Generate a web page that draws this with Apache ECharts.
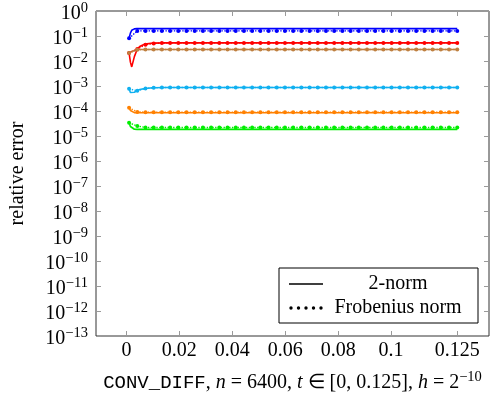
<!DOCTYPE html>
<html>
<head>
<meta charset="utf-8">
<script src="https://cdn.jsdelivr.net/npm/echarts@6/dist/echarts.min.js"></script>
<style>
html,body{margin:0;padding:0;background:#fff;}
#chart{width:497px;height:398px;}
</style>
</head>
<body>
<div id="chart"></div>
<script>
// ---- data ----
const xTicks = [0, 0.02, 0.04, 0.06, 0.08, 0.1, 0.125];

// times of the Frobenius-norm (dotted, marked) samples
const tDot = [
  0.001, 0.0041, 0.0072, 0.0103, 0.0134, 0.0165, 0.0196, 0.0227, 0.0258, 0.0289,
  0.032, 0.0351, 0.0382, 0.0413, 0.0444, 0.0475, 0.0506, 0.0537, 0.0568, 0.0599,
  0.063, 0.0661, 0.0692, 0.0723, 0.0754, 0.0785, 0.0816, 0.0847, 0.0878, 0.0909,
  0.094, 0.0971, 0.1002, 0.1033, 0.1064, 0.1095, 0.1126, 0.1157, 0.1188, 0.1219,
  0.125
];
// times of the 2-norm (solid) samples
const tSolid = [0.001, 0.0015, 0.002, 0.003, 0.004, 0.005, 0.007, 0.01, 0.015, 0.02, 0.04, 0.06, 0.08, 0.1, 0.125];

const blueSolid   = [0.081, 0.13, 0.17, 0.193, 0.197, 0.198, 0.198, 0.198, 0.198, 0.198, 0.198, 0.198, 0.198, 0.198, 0.198];
const redSolid    = [0.021, 0.009, 0.0058, 0.015, 0.028, 0.038, 0.048, 0.052, 0.053, 0.053, 0.053, 0.053, 0.053, 0.053, 0.053];
const brownSolid  = [0.021, 0.022, 0.024, 0.026, 0.028, 0.029, 0.029, 0.029, 0.029, 0.029, 0.029, 0.029, 0.029, 0.029, 0.029];
const cyanSolid   = [7.7e-4, 5.5e-4, 4.7e-4, 5.6e-4, 6.5e-4, 7.2e-4, 8.0e-4, 8.5e-4, 8.7e-4, 8.7e-4, 8.7e-4, 8.7e-4, 8.7e-4, 8.7e-4, 8.7e-4];
const orangeSolid = [1.35e-4, 1.05e-4, 9.2e-5, 8.6e-5, 8.5e-5, 8.5e-5, 8.5e-5, 8.5e-5, 8.5e-5, 8.5e-5, 8.5e-5, 8.5e-5, 8.5e-5, 8.5e-5, 8.5e-5];
const greenSolid  = [3.4e-5, 2.4e-5, 2.0e-5, 1.86e-5, 1.84e-5, 1.84e-5, 1.84e-5, 1.84e-5, 1.84e-5, 1.84e-5, 1.84e-5, 1.84e-5, 1.84e-5, 1.84e-5, 1.84e-5];

const blueDot = [
  0.081, 0.16, 0.16, 0.16, 0.16, 0.16, 0.16, 0.16, 0.16, 0.16,
  0.16, 0.16, 0.16, 0.16, 0.16, 0.16, 0.16, 0.16, 0.16, 0.16,
  0.16, 0.16, 0.16, 0.16, 0.16, 0.16, 0.16, 0.16, 0.16, 0.16,
  0.16, 0.16, 0.16, 0.16, 0.16, 0.16, 0.16, 0.16, 0.16, 0.16,
  0.16
];
const redDot = [
  0.021, 0.03, 0.045, 0.05, 0.052, 0.053, 0.053, 0.053, 0.053, 0.053,
  0.053, 0.053, 0.053, 0.053, 0.053, 0.053, 0.053, 0.053, 0.053, 0.053,
  0.053, 0.053, 0.053, 0.053, 0.053, 0.053, 0.053, 0.053, 0.053, 0.053,
  0.053, 0.053, 0.053, 0.053, 0.053, 0.053, 0.053, 0.053, 0.053, 0.053,
  0.053
];
const brownDot = [
  0.021, 0.028, 0.029, 0.029, 0.029, 0.029, 0.029, 0.029, 0.029, 0.029,
  0.029, 0.029, 0.029, 0.029, 0.029, 0.029, 0.029, 0.029, 0.029, 0.029,
  0.029, 0.029, 0.029, 0.029, 0.029, 0.029, 0.029, 0.029, 0.029, 0.029,
  0.029, 0.029, 0.029, 0.029, 0.029, 0.029, 0.029, 0.029, 0.029, 0.029,
  0.029
];
const cyanDot = [
  7.7e-4, 6.4e-4, 8.0e-4, 8.5e-4, 8.7e-4, 8.7e-4, 8.7e-4, 8.7e-4, 8.7e-4, 8.7e-4,
  8.7e-4, 8.7e-4, 8.7e-4, 8.7e-4, 8.7e-4, 8.7e-4, 8.7e-4, 8.7e-4, 8.7e-4, 8.7e-4,
  8.7e-4, 8.7e-4, 8.7e-4, 8.7e-4, 8.7e-4, 8.7e-4, 8.7e-4, 8.7e-4, 8.7e-4, 8.7e-4,
  8.7e-4, 8.7e-4, 8.7e-4, 8.7e-4, 8.7e-4, 8.7e-4, 8.7e-4, 8.7e-4, 8.7e-4, 8.7e-4,
  8.7e-4
];
const orangeDot = [
  1.35e-4, 9.2e-5, 9.0e-5, 9.0e-5, 9.0e-5, 9.0e-5, 9.0e-5, 9.0e-5, 9.0e-5, 9.0e-5,
  9.0e-5, 9.0e-5, 9.0e-5, 9.0e-5, 9.0e-5, 9.0e-5, 9.0e-5, 9.0e-5, 9.0e-5, 9.0e-5,
  9.0e-5, 9.0e-5, 9.0e-5, 9.0e-5, 9.0e-5, 9.0e-5, 9.0e-5, 9.0e-5, 9.0e-5, 9.0e-5,
  9.0e-5, 9.0e-5, 9.0e-5, 9.0e-5, 9.0e-5, 9.0e-5, 9.0e-5, 9.0e-5, 9.0e-5, 9.0e-5,
  9.0e-5
];
const greenDot = [
  3.4e-5, 2.5e-5, 2.2e-5, 2.2e-5, 2.2e-5, 2.2e-5, 2.2e-5, 2.2e-5, 2.2e-5, 2.2e-5,
  2.2e-5, 2.2e-5, 2.2e-5, 2.2e-5, 2.2e-5, 2.2e-5, 2.2e-5, 2.2e-5, 2.2e-5, 2.2e-5,
  2.2e-5, 2.2e-5, 2.2e-5, 2.2e-5, 2.2e-5, 2.2e-5, 2.2e-5, 2.2e-5, 2.2e-5, 2.2e-5,
  2.2e-5, 2.2e-5, 2.2e-5, 2.2e-5, 2.2e-5, 2.2e-5, 2.2e-5, 2.2e-5, 2.2e-5, 2.2e-5,
  2.2e-5
];

const colors = { blue: '#0000ff', red: '#ff0000', brown: '#bf8040', cyan: '#10b0f0', orange: '#ff8000', green: '#00ee00' };
const legendNames = ['2-norm', 'Frobenius norm'];

// ---- chart ----
const FONT = 'Liberation Serif';
const FS = 20;
const pair = (t, v) => t.map((x, i) => [x, v[i]]);

function solid(name, color, vals) {
  return { name: name, type: 'line', data: pair(tSolid, vals), showSymbol: false, symbol: 'none',
    lineStyle: { color: color, width: 1.6 }, itemStyle: { color: color }, silent: true, z: 2 };
}
function dotted(name, color, vals) {
  return { name: name, type: 'line', data: pair(tDot, vals), showSymbol: true, symbol: 'circle', symbolSize: 4,
    lineStyle: { color: color, width: 1.4, type: 'dotted' }, itemStyle: { color: color }, silent: true, z: 3 };
}

const solidIcon = 'path://M0,0L0.01,0M0,1.25L34,1.25L34,2.75L0,2.75ZM33.99,4L34,4';
const dotIcon = 'path://M0,0L0.01,0M33.99,4L34,4' +
  'M0.3,2a1.7,1.7 0 1,0 3.4,0a1.7,1.7 0 1,0 -3.4,0' +
  'M7.8,2a1.7,1.7 0 1,0 3.4,0a1.7,1.7 0 1,0 -3.4,0' +
  'M15.3,2a1.7,1.7 0 1,0 3.4,0a1.7,1.7 0 1,0 -3.4,0' +
  'M22.8,2a1.7,1.7 0 1,0 3.4,0a1.7,1.7 0 1,0 -3.4,0' +
  'M30.3,2a1.7,1.7 0 1,0 3.4,0a1.7,1.7 0 1,0 -3.4,0';

const tickStyle = { color: '#9a9a9a', width: 1 };
const xMin = -0.0115, xMax = 0.137;

const option = {
  animation: false,
  backgroundColor: '#ffffff',
  grid: { left: 96, right: 8, top: 11, bottom: 62, show: true, borderColor: '#333', borderWidth: 1, backgroundColor: 'transparent' },
  xAxis: [
    { type: 'value', min: xMin, max: xMax, position: 'bottom',
      axisLine: { show: false, onZero: false }, splitLine: { show: false },
      axisTick: { show: true, inside: true, length: 5, lineStyle: tickStyle, customValues: xTicks },
      axisLabel: { customValues: xTicks, formatter: v => String(v), margin: 5, color: '#000', fontFamily: FONT, fontSize: FS },
      name: '{tt|CONV_DIFF}{r|, }{i|n}{r| = 6400, }{i|t}{r| ∈ [0, 0.125], }{i|h}{r| = 2}{s|−10}',
      nameLocation: 'middle', nameGap: 34,
      nameTextStyle: { color: '#000', rich: {
        tt: { fontFamily: 'Liberation Mono', fontSize: 19, color: '#000' },
        r: { fontFamily: FONT, fontSize: FS, color: '#000' },
        i: { fontFamily: FONT, fontSize: FS, fontStyle: 'italic', color: '#000' },
        s: { fontFamily: FONT, fontSize: 14.5, color: '#000', padding: [0, 0, 10, 0] }
      } } },
    { type: 'value', min: xMin, max: xMax, position: 'top',
      axisLine: { show: false, onZero: false }, splitLine: { show: false },
      axisTick: { show: true, inside: true, length: 5, lineStyle: tickStyle, customValues: xTicks },
      axisLabel: { show: false } }
  ],
  yAxis: [
    { type: 'log', logBase: 10, min: 1e-13, max: 1, interval: 1, position: 'left',
      axisLine: { show: false, onZero: false }, splitLine: { show: false }, minorTick: { show: false },
      axisTick: { show: true, inside: true, length: 5, lineStyle: tickStyle },
      axisLabel: { margin: 8, color: '#000', padding: [5, 0, 0, 0],
        formatter: v => { const e = Math.round(Math.log10(v)); return '{b|10}{s|' + (e < 0 ? '−' : '') + Math.abs(e) + '}'; },
        rich: {
          b: { fontFamily: FONT, fontSize: FS, color: '#000' },
          s: { fontFamily: FONT, fontSize: 14.5, color: '#000', padding: [0, 0, 10, 0] }
        } },
      name: 'relative error', nameLocation: 'middle', nameGap: 68,
      nameTextStyle: { fontFamily: FONT, fontSize: FS, color: '#000' } },
    { type: 'log', logBase: 10, min: 1e-13, max: 1, interval: 1, position: 'right',
      axisLine: { show: false, onZero: false }, splitLine: { show: false }, minorTick: { show: false },
      axisTick: { show: true, inside: true, length: 5, lineStyle: tickStyle },
      axisLabel: { show: false } }
  ],
  legend: {
    show: true, orient: 'vertical', left: 279, top: 268, selectedMode: false,
    backgroundColor: '#fff', borderColor: '#000', borderWidth: 1, borderRadius: 0,
    padding: [6, 10, 5, 10], itemGap: 4, itemWidth: 34, itemHeight: 4,
    data: [ { name: legendNames[0], icon: solidIcon }, { name: legendNames[1], icon: dotIcon } ],
    formatter: n => '{c|' + n + '}',
    textStyle: { color: '#000', rich: { c: { width: 140, align: 'center', fontFamily: FONT, fontSize: FS, color: '#000', lineHeight: 21 } } }
  },
  series: [
    solid('blue-2', colors.blue, blueSolid),       dotted('blue-F', colors.blue, blueDot),
    solid('red-2', colors.red, redSolid),          dotted('red-F', colors.red, redDot),
    solid('brown-2', colors.brown, brownSolid),    dotted('brown-F', colors.brown, brownDot),
    solid('cyan-2', colors.cyan, cyanSolid),       dotted('cyan-F', colors.cyan, cyanDot),
    solid('orange-2', colors.orange, orangeSolid), dotted('orange-F', colors.orange, orangeDot),
    solid('green-2', colors.green, greenSolid),    dotted('green-F', colors.green, greenDot),
    { name: legendNames[0], type: 'line', data: [], itemStyle: { color: '#000' }, lineStyle: { color: '#000' } },
    { name: legendNames[1], type: 'line', data: [], itemStyle: { color: '#000' }, lineStyle: { color: '#000', type: 'dotted' } }
  ]
};

const chart = echarts.init(document.getElementById('chart'), null, { renderer: 'canvas' });
chart.setOption(option);
</script>
</body>
</html>
